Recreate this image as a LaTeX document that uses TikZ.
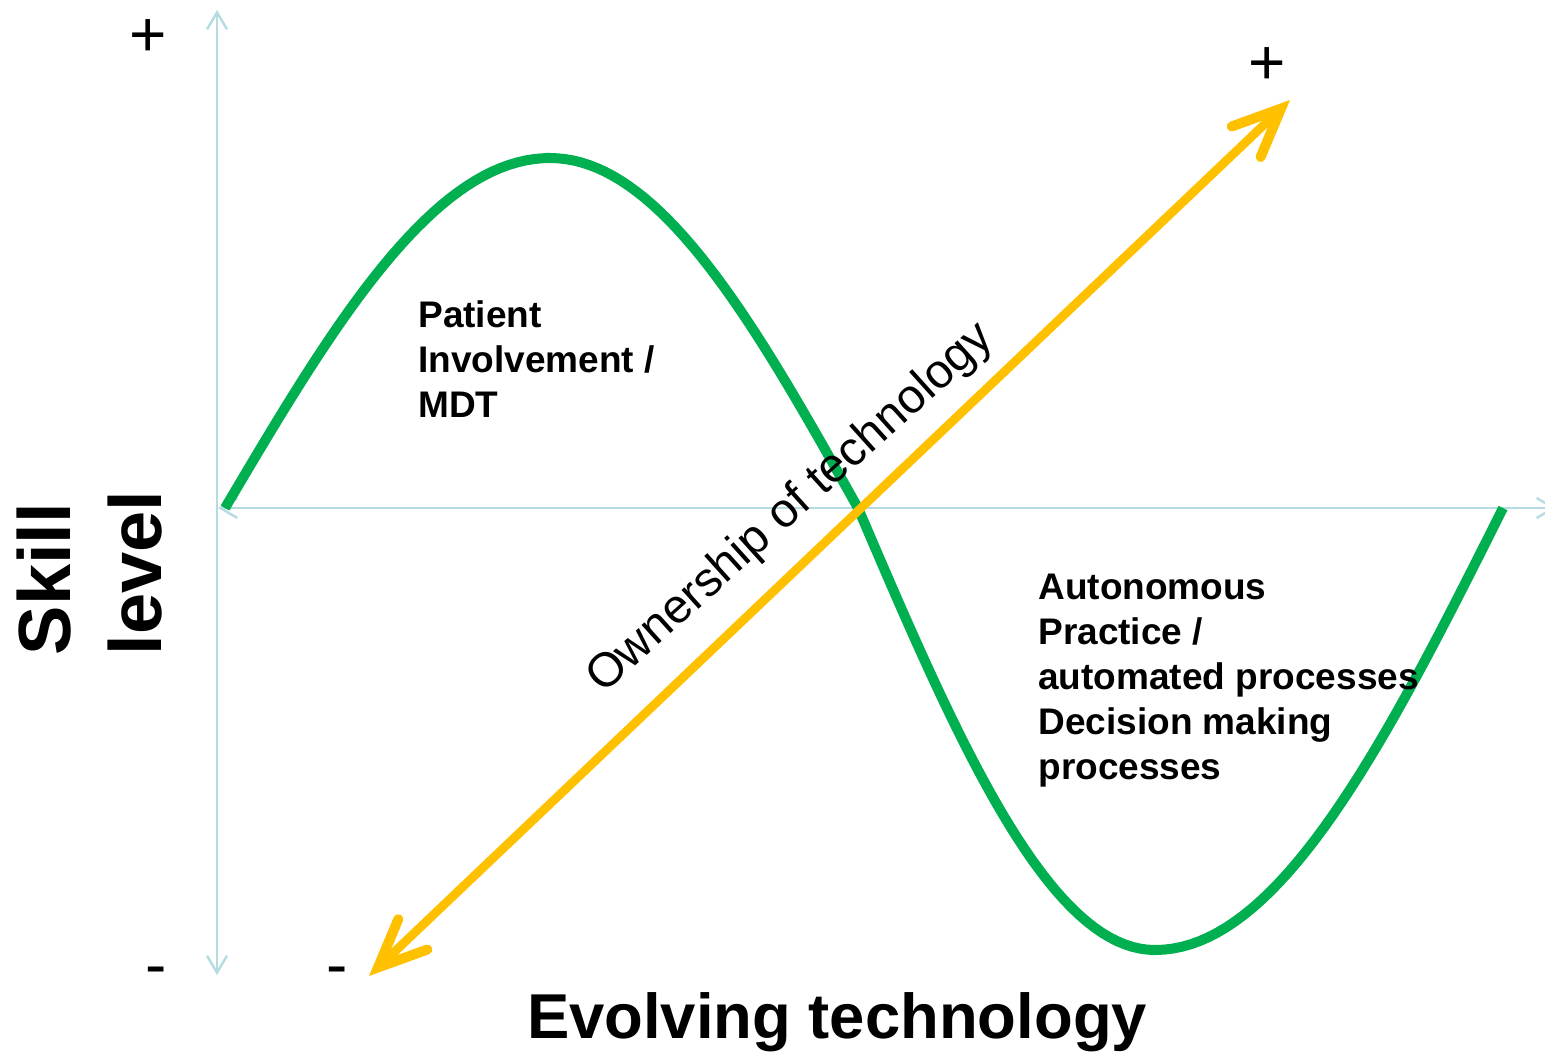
\documentclass[tikz,border=0pt]{standalone}
\usepackage{fontspec}
\setmainfont{Liberation Sans}
\usepackage{xcolor}
\usepackage{tikz}
\usetikzlibrary{arrows.meta}
\definecolor{axiscol}{RGB}{180,220,225}
\definecolor{skillgreen}{RGB}{0,176,80}
\definecolor{owngold}{RGB}{255,192,0}

\begin{document}
\begin{tikzpicture}[x=0.5pt,y=-0.5pt,
  axisline/.style={draw=axiscol,line width=1.2pt,
    {Straight Barb[length=8.5pt,width=10pt]}-{Straight Barb[length=8.5pt,width=10pt]}},
  ownline/.style={draw=owngold,line width=4.4pt,
    {Straight Barb[length=24pt,width=21pt,line width=5pt,line cap=round]}-{Straight Barb[length=24pt,width=21pt,line width=5pt,line cap=round]}},
  skillcurve/.style={draw=skillgreen,line width=5pt},
  sign/.style={font=\fontsize{32}{38}\selectfont,inner sep=0pt,anchor=base},
  areatext/.style={font=\bfseries\fontsize{18.5}{22.5}\selectfont,align=left,inner sep=0pt,anchor=north west}]
\clip (0,0) rectangle (1545,1051);
\coordinate (ytop) at (217,10);
\coordinate (ybot) at (217,975);
\coordinate (xleft) at (218,508);
\coordinate (xright) at (1556,508);
\coordinate (ownlo) at (369,976);
\coordinate (ownhi) at (1290,100);
\draw[axisline] (ybot) -- (ytop);
\draw[axisline] (xleft) -- (xright);
\draw[skillcurve] plot[domain=225:550,samples=40] (\x,{508-350*sin((\x-225)/325*90)})
  -- plot[domain=550:858,samples=40] (\x,{508-350*cos((\x-550)/308*90)})
  -- plot[domain=858:1155,samples=40] (\x,{508+442*sin((\x-858)/297*90)})
  -- plot[domain=1155:1503,samples=40] (\x,{508+442*cos((\x-1155)/348*90)});
\draw[ownline] (ownlo) -- (ownhi);
\node[rotate=42,font=\fontsize{24}{28}\selectfont] (ownlabel) at (791,509) {Ownership of technology};
\node[areatext] (patient) at (418,300) {Patient\\Involvement /\\MDT};
\node[areatext] (autonomous) at (1038,574) {Autonomous\\Practice /\\automated processes\\Decision making\\processes};
\node[font=\bfseries\fontsize{31.7}{38}\selectfont,anchor=base] (xlabel) at (837,1038) {Evolving technology};
\node[rotate=90,align=left,font=\bfseries\fontsize{37}{45.5}\selectfont] (ylabel) at (90,573) {Skill\\level};
\node[sign] (yplus) at (148,56) {+};
\node[sign] (yminus) at (156,986) {-};
\node[sign] (oplus) at (1267,84) {+};
\node[sign] (ominus) at (337,986) {-};
\end{tikzpicture}
\end{document}
